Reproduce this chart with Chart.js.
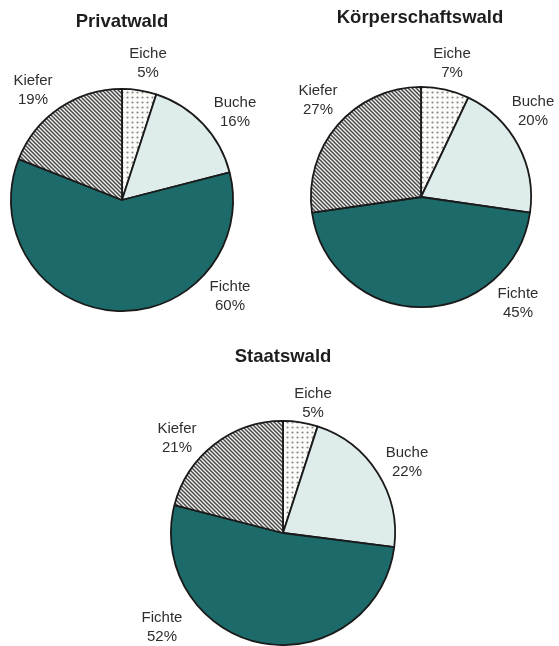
<!DOCTYPE html>
<html><head><meta charset="utf-8">
<script src="https://cdn.jsdelivr.net/npm/chart.js@4"></script>
<style>
html,body{margin:0;padding:0;background:#fff;width:559px;height:646px;overflow:hidden;}
canvas{position:absolute;left:0;top:0;}
</style></head>
<body>
<canvas id="c1" width="559" height="646"></canvas>
<canvas id="c2" width="559" height="646"></canvas>
<canvas id="c3" width="559" height="646"></canvas>
<script>
const categories = ['Eiche', 'Buche', 'Fichte', 'Kiefer'];
const privatwald = [5, 16, 60, 19];
const koerperschaftswald = [7, 20, 45, 27];
const staatswald = [5, 22, 52, 21];
const titles = ['Privatwald', 'Körperschaftswald', 'Staatswald'];

function dotPattern(){
  const c=document.createElement('canvas');c.width=5;c.height=5;
  const x=c.getContext('2d');x.fillStyle='#fbfbf8';x.fillRect(0,0,5,5);
  x.fillStyle='#8a8a88';x.beginPath();x.arc(2.5,2.5,1.1,0,Math.PI*2);x.fill();
  return x.createPattern(c,'repeat');
}
function hatchPattern(){
  const s=4;const c=document.createElement('canvas');c.width=s;c.height=s;
  const x=c.getContext('2d');x.fillStyle='#f2f2f0';x.fillRect(0,0,s,s);
  x.strokeStyle='#4a4a4a';x.lineWidth=1.5;
  x.beginPath();x.moveTo(-1,-1);x.lineTo(s+1,s+1);x.moveTo(-1,s-1);x.lineTo(1,s+1);x.moveTo(s-1,-1);x.lineTo(s+1,1);x.stroke();
  return x.createPattern(c,'repeat');
}
const fills=[dotPattern(),'#dfecec','#1c6b6a',hatchPattern()];

const labelPlugin={
  id:'labelPlugin',
  afterDraw(chart,args,opts){
    const ctx=chart.ctx;const meta=chart.getDatasetMeta(0);
    const arc=meta.data[0];const cx=arc.x, cy=arc.y;
    ctx.save();
    ctx.fillStyle='#1e1e1e';ctx.textAlign='center';ctx.textBaseline='middle';
    ctx.font='bold 18.5px "Liberation Sans", Arial, sans-serif';
    ctx.fillText(opts.title,cx+opts.titleOffset[0],cy+opts.titleOffset[1]);
    ctx.font='15px "Liberation Sans", Arial, sans-serif';ctx.fillStyle='#2e2e2e';
    const ds=chart.data.datasets[0].data;
    chart.data.labels.forEach((lab,i)=>{
      const o=opts.offsets[i];
      ctx.fillText(lab,cx+o[0],cy+o[1]-9.5);
      ctx.fillText(ds[i]+'%',cx+o[0],cy+o[1]+9.5);
    });
    ctx.restore();
  }
};

function make(id,values,title,pad,titleOffset,offsets){
  new Chart(document.getElementById(id),{
    type:'pie',
    data:{labels:categories,datasets:[{data:values,backgroundColor:fills,borderColor:'#1a1a1a',borderWidth:1.8,hoverOffset:0}]},
    options:{responsive:false,animation:false,events:[],
      layout:{padding:pad},
      plugins:{legend:{display:false},tooltip:{enabled:false},
        labelPlugin:{title:title,titleOffset:titleOffset,offsets:offsets}}},
    plugins:[labelPlugin]
  });
}
// chart areas: pie centres/radii
make('c1',privatwald,titles[0],{left:10,top:88,right:559-234,bottom:646-312},[0,-178],
  [[26,-137],[113,-88],[108,96],[-89,-110]]);
make('c2',koerperschaftswald,titles[1],{left:310,top:86,right:559-532,bottom:646-308},[-1,-179],
  [[31,-134],[112,-86],[97,106],[-103,-97]]);
make('c3',staatswald,titles[2],{left:170,top:420,right:559-396,bottom:0},[0,-176],
  [[30,-130],[124,-71],[-121,94],[-106,-95]]);
</script>
</body></html>
